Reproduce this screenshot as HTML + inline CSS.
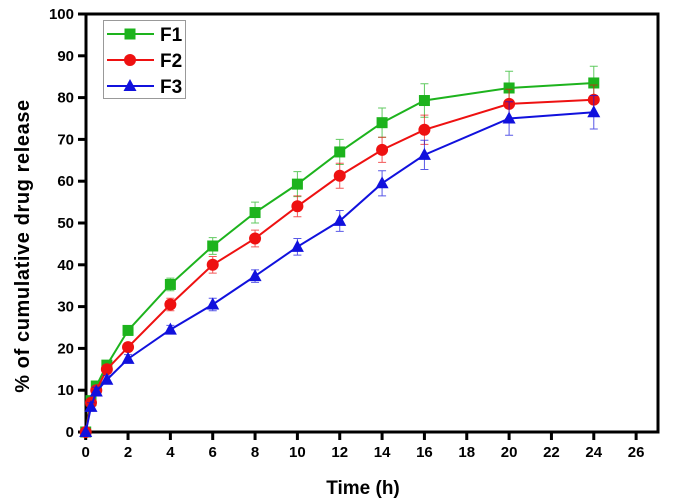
<!DOCTYPE html>
<html><head><meta charset="utf-8"><style>
body{margin:0;background:#fff;}
svg{display:block;font-family:"Liberation Sans",Arial,sans-serif;font-weight:bold;}
</style></head><body>
<svg id="chart" width="675" height="501" viewBox="0 0 675 501"></svg>
<script>
const times=[0,0.25,0.5,1,2,4,6,8,10,12,14,16,20,24];
const f1=[0,7.5,11,16,24.3,35.3,44.5,52.5,59.3,67,74,79.3,82.3,83.5];
const f2=[0,7,10,15,20.3,30.5,40,46.3,54,61.3,67.5,72.3,78.5,79.5];
const f3=[0,6,9.7,12.5,17.5,24.5,30.5,37.3,44.3,50.5,59.5,66.3,75,76.5];
const e1=[0,1,1,1,1,1.5,2,2.5,3,3,3.5,4,4,4];
const e2=[0,1,1,1,1,1.5,2,2,2.5,3,3,3.5,3.5,3.5];
const e3=[0,1,1,1,1,1,1.5,1.5,2,2.5,3,3.5,4,4];
const xTicks=[0,2,4,6,8,10,12,14,16,18,20,22,24,26];
const yTicks=[0,10,20,30,40,50,60,70,80,90,100];
const names=["F1","F2","F3"];
const NS="http://www.w3.org/2000/svg";
const svg=document.getElementById('chart');
const X0=86,XR=658,YB=432,YT=14;
const xs=v=>85.7+v*21.17;
const ys=v=>YB+(YT-YB)*v/100;
function mk(t,a,p){const e=document.createElementNS(NS,t);for(const k in a)e.setAttribute(k,a[k]);(p||svg).appendChild(e);return e;}
const frame=mk('path',{d:`M${X0},${YT}H${XR}V${YB}H${X0}Z`,fill:'none',stroke:'#000','stroke-width':3});


xTicks.forEach(v=>{
 const t=mk('line',{x1:xs(v),x2:xs(v),y1:YB,y2:YB+8,stroke:'#000','stroke-width':3});
 
 
 const l=mk('text',{x:xs(v),y:YB+25,'text-anchor':'middle','font-size':15});l.textContent=v;
 
 
});
yTicks.forEach(v=>{
 const t=mk('line',{x1:X0-8,x2:X0,y1:ys(v),y2:ys(v),stroke:'#000','stroke-width':3});
 
 
 const l=mk('text',{x:X0-12,y:ys(v)+5,'text-anchor':'end','font-size':15});l.textContent=v;
 
 
});
const xt=mk('text',{x:363,y:494,'text-anchor':'middle','font-size':19});xt.textContent='Time (h)';


const yt=mk('text',{x:0,y:0,'text-anchor':'middle','font-size':20,'letter-spacing':'0.6',transform:'translate(29,246) rotate(-90)'});yt.textContent='% of cumulative drug release';


const series=[[f1,e1,'#1db31d','square'],[f2,e2,'#ee1111','circle'],[f3,e3,'#1111dd','triangle']];
function marker(shape,x,y,c,g){
 if(shape==='square')return mk('rect',{x:x-5.5,y:y-5.5,width:11,height:11,fill:c},g);
 if(shape==='circle')return mk('circle',{cx:x,cy:y,r:6,fill:c},g);
 return mk('path',{d:`M${x},${y-7}L${x+6.5},${y+5}L${x-6.5},${y+5}Z`,fill:c},g);
}
series.forEach((s,si)=>{
 const [vals,errs,c,shape]=s;
 const g=mk('g',{});
 
 
 times.forEach((t,i)=>{
  if(!errs[i])return;
  const x=xs(t),a=ys(vals[i]+errs[i]),b=ys(vals[i]-errs[i]);
  const eb=mk('path',{d:`M${x},${a}V${b}M${x-4},${a}H${x+4}M${x-4},${b}H${x+4}`,stroke:c,'stroke-width':1,fill:'none',opacity:0.7},g);
  
  
 });
 const ln=mk('polyline',{points:times.map((t,i)=>xs(t)+','+ys(vals[i])).join(' '),fill:'none',stroke:c,'stroke-width':2},g);
 
 
 times.forEach((t,i)=>{
  const m=marker(shape,xs(t),ys(vals[i]),c,g);
  
  
 });
});
const lg=mk('g',{});


mk('rect',{x:103.5,y:20.5,width:82,height:78,fill:'#fff',stroke:'#999','stroke-width':1},lg);
series.forEach((s,i)=>{
 const y=34+i*26;
 const e=mk('g',{},lg);
 
 
 mk('line',{x1:107,x2:154,y1:y,y2:y,stroke:s[2],'stroke-width':2},e);
 marker(s[3],130,y,s[2],e);
 const t=mk('text',{x:160,y:y+7,'font-size':19},e);t.textContent=names[i];
});
</script>
</body></html>
